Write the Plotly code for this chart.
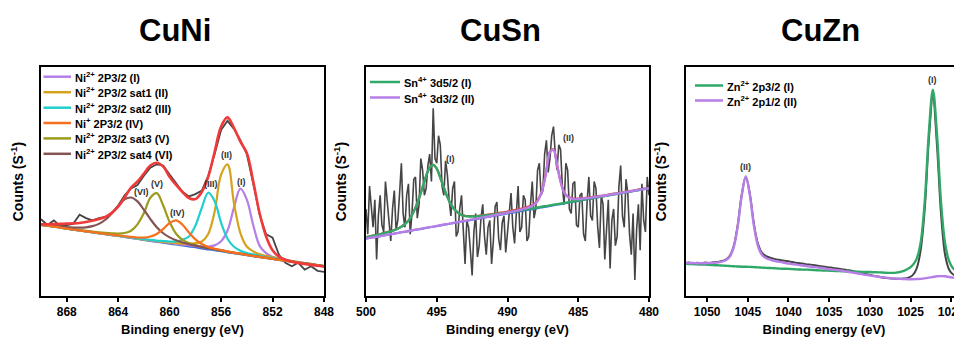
import numpy as np
import plotly.graph_objects as go

FONT = "Liberation Sans, Arial, sans-serif"

# ---------------- CuNi : Ni 2p3/2 (arbitrary count units) ----------------
ni_be = np.round(np.linspace(870, 848, 45), 2)
ni_raw = [33.5, 31.0, 33.0, 30.5, 31.0, 31.5, 35.5, 34.0, 33.0, 34.0,
          34.5, 36.0, 39.5, 44.0, 47.0, 48.5, 52.5, 56.0, 57.5, 57.0,
          53.0, 49.0, 45.5, 43.5, 44.5, 46.0, 52.5, 62.0, 72.5, 76.5,
          73.0, 68.0, 62.0, 49.0, 35.5, 27.0, 25.5, 18.0, 14.5, 13.0,
          14.5, 11.5, 13.0, 11.0, 10.5]
ni_fit = [31.2, 31.3, 31.4, 31.5, 31.6, 31.7, 31.9, 32.3, 32.9, 33.6,
          34.5, 36.3, 39.0, 43.0, 47.3, 50.0, 53.5, 57.0, 58.2, 56.5,
          52.0, 48.5, 45.4, 42.8, 42.3, 45.4, 52.0, 63.0, 74.0, 78.0,
          73.4, 67.4, 62.5, 50.0, 36.0, 26.0, 20.0, 17.2, 15.9, 15.0,
          14.4, 14.0, 13.6, 13.2, 12.9]
ni_bg = [31.0, 30.6, 30.2, 29.8, 29.3, 28.9, 28.5, 28.1, 27.7, 27.3,
         26.9, 26.5, 26.1, 25.7, 25.3, 24.8, 24.4, 24.0, 23.6, 23.2,
         22.8, 22.4, 22.0, 21.6, 21.2, 20.7, 20.3, 19.9, 19.5, 19.0,
         18.6, 18.2, 17.7, 17.3, 16.9, 16.5, 16.1, 15.7, 15.3, 14.9,
         14.5, 14.1, 13.7, 13.3, 12.9]
# component heights above the background
ni_p1 = [.1, .1, .1, .1, .1, .1, .12, .12, .15, .15,
         .15, .15, .2, .2, .2, .2, .25, .25, .3, .3,
         .35, .4, .45, .55, .7, .9, 1.3, 2.2, 4.4, 9.6,
         20.0, 28.7, 24.4, 13.6, 5.0, 2.2, 1.0, .6, .45, .35,
         .3, .27, .25, .22, .2]
ni_p2 = [.1, .1, .11, .12, .12, .13, .14, .15, .16, .17,
         .18, .2, .2, .22, .25, .27, .3, .35, .4, .45,
         .55, .7, .9, 1.2, 1.9, 3.1, 6.8, 17.0, 33.5, 38.5,
         22.0, 9.3, 3.9, 2.2, 1.3, 1.0, .75, .6, .5, .4,
         .35, .3, .3, .25, .22]
ni_p3 = [.1, .1, .1, .11, .12, .13, .14, .15, .16, .18,
         .2, .22, .24, .27, .3, .35, .4, .5, .6, .8,
         1.0, 1.4, 2.6, 4.4, 9.5, 17.8, 24.8, 21.5, 12.5, 6.0,
         2.9, 1.6, 1.1, .85, .65, .5, .42, .35, .3, .27,
         .24, .22, .2, .18, .17]
ni_p4 = [.08, .08, .09, .1, .1, .11, .12, .14, .16, .19,
         .22, .27, .33, .4, .55, .75, 1.1, 2.0, 3.5, 6.1,
         9.1, 10.6, 9.1, 6.1, 3.5, 2.0, 1.1, .75, .55, .4,
         .33, .27, .22, .19, .16, .14, .12, .11, .1, .1,
         .09, .08, .08, .07, .07]
ni_p5 = [.15, .16, .18, .2, .22, .26, .3, .35, .42, .5,
         .65, .85, 1.15, 1.8, 3.2, 6.5, 11.8, 18.9, 21.3, 16.3,
         9.5, 4.8, 2.5, 1.5, 1.0, .75, .6, .48, .4, .33,
         .28, .25, .21, .19, .17, .15, .14, .13, .12, .11,
         .1, .1, .09, .09, .08]
ni_p6 = [.44, .5, .58, .68, .8, 1.0, 1.35, 1.9, 2.8, 4.2,
         6.4, 9.6, 13.2, 16.5, 17.7, 16.5, 13.2, 9.6, 6.4, 4.2,
         2.8, 1.9, 1.35, 1.0, .8, .68, .58, .5, .44, .39,
         .34, .3, .27, .24, .22, .2, .18, .16, .15, .14,
         .13, .12, .11, .1, .1]
ni_names = ["Ni<sup>2+</sup> 2P3/2 (I)", "Ni<sup>2+</sup> 2P3/2 sat1 (II)",
            "Ni<sup>2+</sup> 2P3/2 sat2 (III)", "Ni<sup>+</sup> 2P3/2 (IV)",
            "Ni<sup>2+</sup> 2P3/2 sat3 (V)", "Ni<sup>2+</sup> 2P3/2 sat4 (VI)"]
ni_tags = ["(I)", "(II)", "(III)", "(IV)", "(V)", "(VI)"]
ni_tag_x = [854.4, 855.6, 856.8, 859.4, 861.0, 862.2]
ni_tag_y = [49.8, 61.5, 48.9, 36.2, 48.9, 45.4]

# ---------------- CuSn : Sn 3d ----------------
sn_raw_be = np.round(np.linspace(500, 480, 161), 3)
sn_raw = [38, 27, 48, 40, 30, 42, 16, 35, 44, 31,
          28, 50, 40, 33, 24, 38, 46, 29, 33, 45,
          58, 36, 30, 44, 49, 27, 36, 51, 52, 34,
          40, 60, 55, 44, 47, 57, 62, 50, 82, 60,
          58, 70, 66, 48, 44, 59, 53, 42, 35, 47,
          50, 26, 28, 38, 44, 29, 14, 33, 30, 20,
          9, 28, 36, 17, 22, 34, 40, 26, 18, 30,
          33, 14, 24, 39, 41, 25, 20, 32, 35, 19,
          27, 38, 45, 30, 23, 36, 48, 28, 30, 44,
          42, 24, 26, 40, 50, 34, 38, 55, 58, 44,
          46, 62, 68, 54, 60, 70, 74, 62, 55, 66,
          64, 48, 40, 58, 55, 38, 36, 49, 50, 31,
          30, 44, 45, 27, 24, 41, 52, 35, 33, 50,
          47, 30, 21, 44, 40, 16, 29, 42, 12, 33,
          38, 22, 26, 48, 57, 35, 30, 51, 45, 27,
          18, 36, 7, 29, 40, 20, 49, 33, 28, 52,
          44]
sn_be = np.round(np.linspace(500, 480, 81), 2)
sn_bg = [25.0, 25.3, 25.6, 25.8, 26.1, 26.4, 26.7, 26.9, 27.2, 27.5,
         27.8, 28.0, 28.3, 28.6, 28.9, 29.1, 29.4, 29.7, 30.0, 30.2,
         30.5, 30.8, 31.1, 31.3, 31.6, 31.9, 32.2, 32.4, 32.7, 33.0,
         33.3, 33.5, 33.8, 34.1, 34.4, 34.6, 34.9, 35.2, 35.5, 35.7,
         36.0, 36.3, 36.6, 36.8, 37.1, 37.4, 37.7, 37.9, 38.2, 38.5,
         38.8, 39.0, 39.3, 39.6, 39.9, 40.1, 40.4, 40.7, 41.0, 41.2,
         41.5, 41.8, 42.1, 42.3, 42.6, 42.9, 43.2, 43.4, 43.7, 44.0,
         44.3, 44.5, 44.8, 45.1, 45.4, 45.6, 45.9, 46.2, 46.5, 46.7,
         47.0]
sn_p1 = [.6, .65, .72, .8, .9, 1.0, 1.15, 1.3, 1.55, 1.9,
         2.4, 3.4, 4.6, 6.7, 9.7, 13.5, 18.1, 22.7, 26.0, 27.0,
         25.1, 20.8, 16.2, 11.9, 8.4, 5.9, 4.1, 3.0, 2.2, 1.75,
         1.45, 1.25, 1.1, .97, .87, .78, .7, .63, .57, .52,
         .48, .45, .42, .39, .37, .35, .33, .31, .3, .28,
         .27, .26, .25, .24, .23, .22, .21, .2, .19, .19,
         .18, .17, .17, .16, .16, .15, .15, .14, .14, .14,
         .13, .13, .12, .12, .12, .11, .11, .11, .1, .1,
         .1]
sn_p2 = [.06, .06, .06, .06, .06, .06, .07, .07, .07, .07,
         .07, .08, .08, .08, .08, .09, .09, .09, .1, .1,
         .1, .1, .11, .11, .12, .12, .13, .13, .14, .15,
         .16, .17, .18, .2, .21, .23, .25, .27, .3, .33,
         .37, .42, .48, .56, .68, .82, 1.05, 1.45, 2.3, 4.3,
         8.3, 15.7, 23.5, 24.2, 17.3, 9.8, 4.8, 2.6, 1.6, 1.1,
         .85, .7, .58, .5, .44, .39, .35, .31, .28, .26,
         .24, .22, .2, .19, .17, .16, .15, .15, .14, .13,
         .12]
sn_names = ["Sn<sup>4+</sup> 3d5/2 (I)", "Sn<sup>4+</sup> 3d3/2 (II)"]
sn_tag_x = [494.06, 485.7]
sn_tag_y = [59.8, 68.9]

# ---------------- CuZn : Zn 2p ----------------
zn_be = np.round(np.linspace(1052.75, 1018.75, 69), 2)
zn_raw = [14.3, 14.6, 14.2, 14.5, 14.3, 14.6, 14.4, 14.7, 14.8, 15.3,
          15.8, 17.4, 21.6, 30.8, 44.2, 52.0, 44.6, 31.5, 22.8, 18.8,
          17.4, 16.7, 16.2, 15.8, 15.5, 15.3, 15.0, 14.6, 14.4, 14.2,
          13.8, 13.7, 13.4, 13.1, 12.9, 12.6, 12.4, 12.1, 11.9, 11.6,
          11.3, 11.0, 10.6, 10.2, 9.8, 9.4, 9.0, 8.7, 8.3, 8.0,
          7.8, 7.6, 7.5, 7.5, 7.6, 8.0, 9.0, 12.0, 20.0, 38.0,
          68.0, 87.0, 66.0, 36.0, 18.0, 11.5, 9.4, 8.9, 8.6]
zn_p1 = [14.1, 14.0, 13.9, 13.8, 13.7, 13.7, 13.6, 13.5, 13.4, 13.3,
         13.2, 13.1, 13.0, 12.9, 12.8, 12.8, 12.7, 12.6, 12.5, 12.4,
         12.3, 12.2, 12.1, 12.0, 11.9, 11.9, 11.8, 11.7, 11.6, 11.5,
         11.5, 11.4, 11.3, 11.2, 11.1, 11.1, 11.0, 10.9, 10.9, 10.8,
         10.7, 10.7, 10.6, 10.6, 10.5, 10.5, 10.4, 10.4, 10.3, 10.2,
         10.1, 10.1, 10.2, 10.5, 11.1, 12.0, 13.4, 16.2, 23.4, 41.2,
         71.0, 90.1, 70.8, 41.0, 23.0, 15.2, 12.0, 10.9, 10.2]
zn_p2 = [14.4, 14.4, 14.4, 14.3, 14.3, 14.3, 14.4, 14.5, 14.6, 15.0,
         15.5, 17.0, 21.1, 30.2, 43.8, 52.3, 44.0, 30.7, 21.8, 17.9,
         16.5, 15.9, 15.3, 15.0, 14.7, 14.3, 14.1, 13.8, 13.6, 13.3,
         13.1, 12.8, 12.6, 12.4, 12.2, 11.8, 11.6, 11.4, 11.2, 11.0,
         10.6, 10.3, 10.0, 9.7, 9.4, 9.1, 8.8, 8.6, 8.3, 8.1,
         7.9, 7.7, 7.6, 7.5, 7.4, 7.3, 7.3, 7.4, 7.5, 7.7,
         8.0, 8.3, 8.6, 8.7, 8.6, 8.3, 8.0, 7.8, 7.7]
zn_names = ["Zn<sup>2+</sup> 2p3/2 (I)", "Zn<sup>2+</sup> 2p1/2 (II)"]
zn_tag_x = [1022.3, 1045.25]
zn_tag_y = [94.3, 56.5]

panel_titles = ["CuNi", "CuSn", "CuZn"]

# ---------------- styling ----------------
RAW = "#454545"
FIT = "#f03a3a"
BG = "#3d6fd6"
PURPLE = "#b67ee6"
GOLD = "#d4a21c"
CYAN = "#22cfd0"
ORANGE = "#f6701e"
OLIVE = "#9c9b1c"
BROWN = "#845453"
GREEN = "#2fa868"

# the page body adds an 8 px offset; the figure is sized so that it ends at the window edge
OFF = 8
W, H = 962 - OFF, 340 - OFF


def px(x):
    return (x - OFF) / W


def py(y):
    return 1 - (y - OFF) / H


fig = go.Figure()


def line(x, y, color, width, xa, ya, shape="spline"):
    fig.add_trace(go.Scatter(x=x, y=y, mode="lines", xaxis=xa, yaxis=ya,
                             line=dict(color=color, width=width, shape=shape),
                             showlegend=False, hoverinfo="skip"))


def add_bg(bg, off):
    return [round(b + o, 2) for b, o in zip(bg, off)]


# CuNi
line(ni_be, ni_raw, RAW, 1.8, "x", "y", "linear")
line(ni_be, ni_bg, BG, 1.8, "x", "y")
ni_cols = [PURPLE, GOLD, CYAN, ORANGE, OLIVE, BROWN]
ni_offs = [ni_p1, ni_p2, ni_p3, ni_p4, ni_p5, ni_p6]
for k in [0, 1, 2, 4, 5, 3]:
    line(ni_be, add_bg(ni_bg, ni_offs[k]), ni_cols[k], 2.2, "x", "y")
line(ni_be, ni_fit, FIT, 2.6, "x", "y")

# CuSn
sn_c1 = add_bg(sn_bg, sn_p1)
sn_c2 = add_bg(sn_bg, sn_p2)
sn_fit = [round(b + a + c, 2) for b, a, c in zip(sn_bg, sn_p1, sn_p2)]
line(sn_raw_be, sn_raw, RAW, 1.6, "x2", "y2", "linear")
line(sn_be, sn_fit, FIT, 2.2, "x2", "y2")
line(sn_be, sn_bg, BG, 2.0, "x2", "y2")
line(sn_be, sn_c1, GREEN, 2.4, "x2", "y2")
line(sn_be, sn_c2, PURPLE, 2.4, "x2", "y2")

# CuZn
line(zn_be, zn_raw, RAW, 2.0, "x3", "y3")
line(zn_be, zn_p1, GREEN, 2.4, "x3", "y3")
line(zn_be, zn_p2, PURPLE, 2.4, "x3", "y3")

# ---------------- axes ----------------
doms = [(px(41), px(324)), (px(366), px(649)), (px(686), 1.0)]
ranges = [(870, 848), (500, 480), (1052.6, 1018.67)]
dticks = [4, 5, 5]
tick0s = [848, 480, 1020]
ydom = (py(296), py(67))

layout = dict(width=W, height=H, margin=dict(l=0, r=0, t=0, b=0),
              paper_bgcolor="white", plot_bgcolor="white",
              font=dict(family=FONT, color="black"), showlegend=False)
for i in range(3):
    sx = "" if i == 0 else str(i + 1)
    layout["xaxis" + sx] = dict(
        domain=doms[i], range=list(ranges[i]), anchor="y" + sx, automargin=False,
        showline=True, linecolor="black", linewidth=2, mirror=True,
        ticks="outside", ticklen=4, tickwidth=1.5, tickcolor="black",
        dtick=dticks[i], tick0=tick0s[i], showgrid=False, zeroline=False,
        ticklabeloverflow="allow",
        tickfont=dict(size=12, family=FONT, color="black", weight="bold"),
        title=dict(text="Binding energy (eV)", standoff=6,
                   font=dict(size=13, family=FONT, color="black", weight="bold")))
    layout["yaxis" + sx] = dict(
        domain=ydom, range=[0, 100], anchor="x" + sx, automargin=False,
        showline=True, linecolor="black", linewidth=2, mirror=(i < 2),
        ticks="", showticklabels=False, showgrid=False, zeroline=False,
        title=dict(text="Counts (S<sup>-1</sup>)", standoff=14,
                   font=dict(size=14, family=FONT, color="black", weight="bold")))
fig.update_layout(**layout)

# ---------------- panel titles ----------------
title_x = [175, 500, 820]
for t, xp in zip(panel_titles, title_x):
    fig.add_annotation(text="<b>%s</b>" % t, x=px(xp), y=py(30), xref="paper", yref="paper",
                       showarrow=False, xanchor="center", yanchor="middle",
                       font=dict(size=31, family=FONT, color="black"))


# ---------------- peak tags ----------------
def tags(xs, ys, names, xa, ya):
    for xv, yv, nm in zip(xs, ys, names):
        fig.add_annotation(text="<b>%s</b>" % nm, x=xv, y=yv, xref=xa, yref=ya, showarrow=False,
                           xanchor="center", yanchor="middle",
                           font=dict(size=9, family=FONT, color="#333333"))


tags(ni_tag_x, ni_tag_y, ni_tags, "x", "y")
tags(sn_tag_x, sn_tag_y, ["(I)", "(II)"], "x2", "y2")
tags(zn_tag_x, zn_tag_y, ["(I)", "(II)"], "x3", "y3")


# ---------------- legends (drawn inside each frame) ----------------
def legend(names, colors, x0, x1, rows):
    for nm, col, yp in zip(names, colors, rows):
        fig.add_shape(type="line", xref="paper", yref="paper",
                      x0=px(x0), x1=px(x1), y0=py(yp), y1=py(yp),
                      line=dict(color=col, width=2.5))
        fig.add_annotation(text="<b>%s</b>" % nm, x=px(x1 + 1.5), y=py(yp),
                           xref="paper", yref="paper",
                           showarrow=False, xanchor="left", yanchor="middle",
                           font=dict(size=11, family=FONT, color="black"))


legend(ni_names, ni_cols, 43.5, 71, [76.7, 92.2, 107.7, 123.0, 138.4, 153.8])
legend(sn_names, [GREEN, PURPLE], 370, 400, [82, 97.5])
legend(zn_names, [GREEN, PURPLE], 695, 723, [85.5, 100.5])

fig.write_html("out.html")
